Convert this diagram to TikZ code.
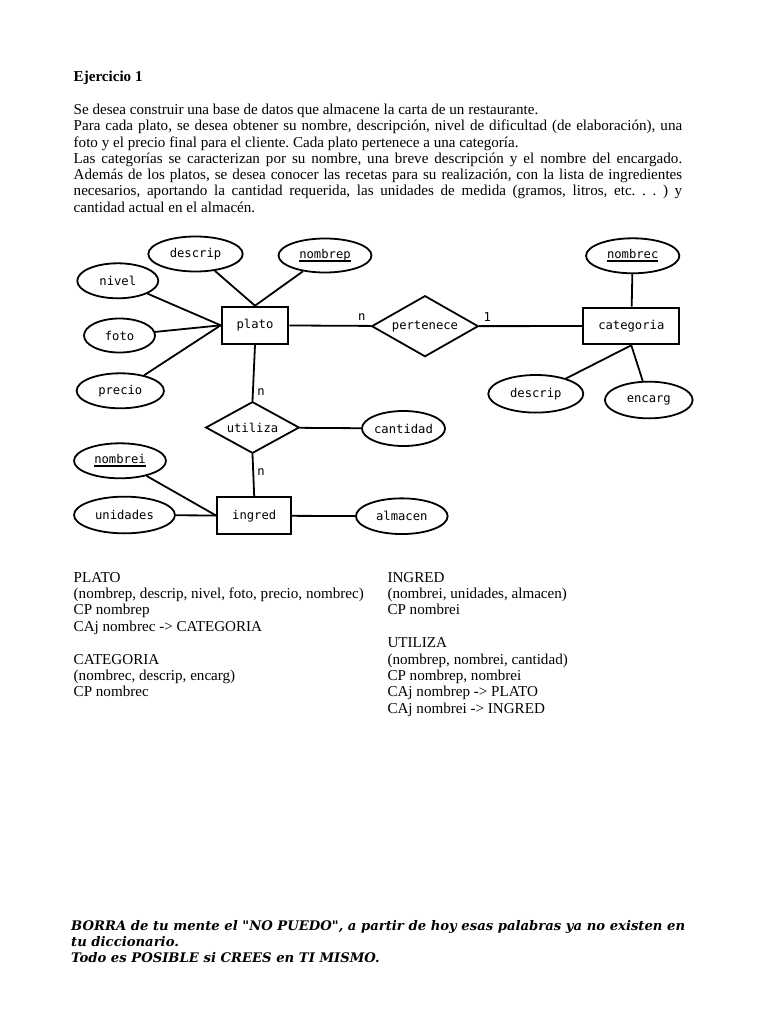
\documentclass[tikz,border=0pt]{standalone}
\usepackage{fontspec}
\setmainfont{Liberation Serif}
\newfontfamily\erfont{DejaVu Sans Mono}
\newfontfamily\quotefont{DejaVu Serif}
\usetikzlibrary{shapes.geometric}
\newlength\qlen
\newcommand\keyu[1]{\setbox0\hbox{#1}\leavevmode\rlap{\raisebox{-3.2pt}{\rule{\wd0}{1.6pt}}}\box0}
\AtBeginDocument{%
  \settowidth\qlen{\quotefont\bfseries\itshape\fontsize{13}{16}\selectfont BORRA de tu mente el "NO PUEDO", a partir de hoy esas palabras ya no existen en}%
  \pgfmathsetmacro\qsizetmp{13*614/\qlen}%
  \xdef\qsize{\qsizetmp}%
}
\tikzset{
  attr/.style={draw, ellipse, line width=1.8pt, inner sep=0pt, font=\erfont\fontsize{12.2}{14}\selectfont},
  ent/.style={draw, rectangle, line width=1.9pt, inner sep=0pt, font=\erfont\fontsize{12.2}{14}\selectfont},
  rel/.style={draw, diamond, aspect=2, line width=1.8pt, inner sep=0pt, font=\erfont\fontsize{12.2}{14}\selectfont},
  card/.style={inner sep=0pt, font=\erfont\fontsize{12.2}{14}\selectfont},
  conn/.style={line width=1.8pt},
  txt/.style={anchor=base west, inner sep=0pt, font=\frenchspacing\fontsize{15.1}{16}\selectfont},
  qtxt/.style={anchor=base west, inner sep=0pt, font=\quotefont\bfseries\itshape\fontsize{\qsize}{16}\selectfont},
}
\begin{document}
\begin{tikzpicture}[x=1pt,y=-1pt]
\fill[white] (0,0) rectangle (768,1024);
\useasboundingbox (0,0) rectangle (768,1024);
% ---- header text
\node[txt, font=\bfseries\fontsize{15.1}{16}\selectfont] (title) at (73.5,82) {Ejercicio 1};
\node[txt] (p1) at (73.5,114.5) {Se desea construir una base de datos que almacene la carta de un restaurante.};
\node[txt] (p2) at (73.5,130.8) {\makebox[608.5pt][s]{Para cada plato, se desea obtener su nombre, descripción, nivel de dificultad (de elaboración), una}};
\node[txt] (p3) at (73.5,147.1) {foto y el precio final para el cliente. Cada plato pertenece a una categoría.};
\node[txt] (p4) at (73.5,163.4) {\makebox[608.5pt][s]{Las categorías se caracterizan por su nombre, una breve descripción y el nombre del encargado.}};
\node[txt] (p5) at (73.5,179.7) {\makebox[608.5pt][s]{Además de los platos, se desea conocer las recetas para su realización, con la lista de ingredientes}};
\node[txt] (p6) at (73.5,196.0) {\makebox[608.5pt][s]{necesarios, aportando la cantidad requerida, las unidades de medida (gramos, litros, etc. . . ) y}};
\node[txt] (p7) at (73.5,212.3) {cantidad actual en el almacén.};
% ---- ER diagram
\node[attr, minimum width=94.4, minimum height=35] (descrip) at (195.5,254) {descrip};
\node[attr, minimum width=93, minimum height=34] (nombrep) at (325,255.5) {\keyu{nombrep}};
\node[attr, minimum width=81, minimum height=35] (nivel) at (117.8,280.8) {nivel};
\node[attr, minimum width=71, minimum height=34] (foto) at (119.5,335.5) {foto};
\node[attr, minimum width=87.3, minimum height=35] (precio) at (120.3,390.8) {precio};
\node[ent, minimum width=66.7, minimum height=37.3] (plato) at (255,325.3) {plato};
\node[rel, minimum width=106.7, minimum height=61] (pertenece) at (425,326.2) {pertenece};
\node[ent, minimum width=96, minimum height=36.7] (categoria) at (631.3,326) {categoria};
\node[attr, minimum width=93.3, minimum height=35] (nombrec) at (632.7,255.8) {\keyu{nombrec}};
\node[attr, minimum width=95, minimum height=37.6] (descrip2) at (535.8,393.8) {descrip};
\node[attr, minimum width=87.7, minimum height=36.7] (encarg) at (648.8,400) {encarg};
\node[rel, minimum width=93.6, minimum height=51.6] (utiliza) at (252.5,427.5) {utiliza};
\node[attr, minimum width=79, minimum height=35] (cantidad) at (403.5,428.5) {cantidad};
\node[attr, minimum width=92, minimum height=35] (nombrei) at (120,460.8) {\keyu{nombrei}};
\node[attr, minimum width=101, minimum height=36.7] (unidades) at (124.5,515) {unidades};
\node[ent, minimum width=73.7, minimum height=36.7] (ingred) at (254.2,515.7) {ingred};
\node[attr, minimum width=91.7, minimum height=35.7] (almacen) at (401.8,516.2) {almacen};
% cardinalities
\node[card] (c1) at (361.7,317.3) {n};
\node[card] (c2) at (487.3,317.3) {1};
\node[card] (c3) at (261,392.3) {n};
\node[card] (c4) at (261,471.7) {n};
% connectors
\draw[conn] (descrip) -- (plato.north);
\draw[conn] (nombrep) -- (plato.north);
\draw[conn] (nivel) -- (plato.west);
\draw[conn] (foto) -- (plato.west);
\draw[conn] (precio) -- (plato.west);
\draw[conn] (plato) -- (pertenece);
\draw[conn] (pertenece) -- (categoria);
\draw[conn] (nombrec) -- (categoria);
\draw[conn] (categoria.south) -- (descrip2);
\draw[conn] (categoria.south) -- (encarg);
\draw[conn] (plato.south) -- (utiliza.north);
\draw[conn] (utiliza) -- (cantidad);
\draw[conn] (utiliza.south) -- (ingred.north);
\draw[conn] (nombrei) -- (ingred.west);
\draw[conn] (unidades) -- (ingred);
\draw[conn] (ingred) -- (almacen);
% ---- relational schema
\node[txt] (l1) at (73.5,582) {PLATO};
\node[txt] (l2) at (73.5,598.4) {(nombrep, descrip, nivel, foto, precio, nombrec)};
\node[txt] (l3) at (73.5,614.8) {CP nombrep};
\node[txt] (l4) at (73.5,631.2) {CAj nombrec -> CATEGORIA};
\node[txt] (l5) at (73.5,664.0) {CATEGORIA};
\node[txt] (l6) at (73.5,680.4) {(nombrec, descrip, encarg)};
\node[txt] (l7) at (73.5,696.8) {CP nombrec};
\node[txt] (r1) at (387.3,582) {INGRED};
\node[txt] (r2) at (387.3,598.4) {(nombrei, unidades, almacen)};
\node[txt] (r3) at (387.3,614.8) {CP nombrei};
\node[txt] (r4) at (387.3,647.6) {UTILIZA};
\node[txt] (r5) at (387.3,664.0) {(nombrep, nombrei, cantidad)};
\node[txt] (r6) at (387.3,680.4) {CP nombrep, nombrei};
\node[txt] (r7) at (387.3,696.8) {CAj nombrep -> PLATO};
\node[txt] (r8) at (387.3,713.2) {CAj nombrei -> INGRED};
% ---- quote
\node[qtxt] (q1) at (71,930) {BORRA de tu mente el "NO PUEDO", a partir de hoy esas palabras ya no existen en};
\node[qtxt] (q2) at (71,946) {tu diccionario.};
\node[qtxt] (q3) at (71,962) {Todo es POSIBLE si CREES en TI MISMO.};
\end{tikzpicture}
\end{document}
